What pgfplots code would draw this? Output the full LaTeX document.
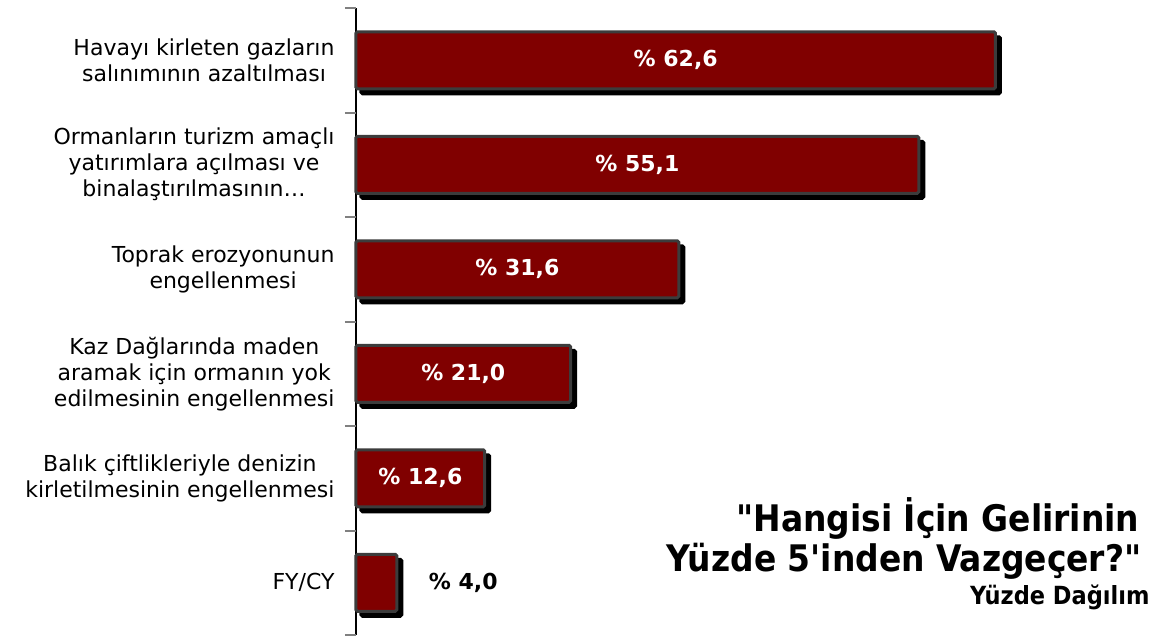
\documentclass[border=0pt]{standalone}
\usepackage{pgfplots}
\pgfplotsset{compat=1.18}
\usepackage{fontspec}
\setmainfont{DejaVu Sans}
\newfontfamily\condfont{DejaVu Sans Condensed}
\definecolor{barred}{HTML}{800000}
\definecolor{baredge}{HTML}{3C3C3C}
\newcommand{\dq}{\symbol{"22}}
\newcommand{\sq}{\symbol{"27}}
\begin{document}
\begin{tikzpicture}[x=1pt,y=1pt]
\path[use as bounding box] (0,0) rectangle (1168,643);
\begin{axis}[
  at={(356pt,8pt)}, anchor=south west,
  scale only axis, width=810pt, height=627pt,
  xmin=0, xmax=79.3, ymin=-0.5, ymax=5.5, y dir=reverse,
  hide x axis,
  axis y line=left, y axis line style={-, black, line width=1.2pt},
  ytick={0,1,2,3,4,5},
  yticklabels={{Havayı kirleten gazların\\salınımının azaltılması},
    {Ormanların turizm amaçlı\\yatırımlara açılması ve\\binalaştırılmasının…},
    {Toprak erozyonunun\\engellenmesi},
    {Kaz Dağlarında maden\\aramak için ormanın yok\\edilmesinin engellenmesi},
    {Balık çiftlikleriyle denizin\\kirletilmesinin engellenmesi},
    {FY/CY}},
  major tick length=0pt,
  yticklabel style={align=center, font=\fontsize{22}{26}\selectfont, xshift=-18pt},
  extra y ticks={-0.5,0.5,1.5,2.5,3.5,4.5,5.5},
  extra y tick labels={},
  extra tick style={major tick length=11pt, tick align=outside, tick style={draw=gray, line width=2pt}},
  clip=false,
]
\addplot[xbar, bar width=57pt, fill=barred, draw=baredge, line width=3pt, rounded corners=1.5pt,
  preaction={draw=black, fill=black, line width=3pt, transform canvas={xshift=5pt,yshift=-5pt}}]
  coordinates {(62.6,0) (55.1,1) (31.6,2) (21.0,3) (12.6,4) (4.0,5)};
\begin{scope}[every node/.style={font=\fontsize{22}{24}\selectfont\bfseries, text=white}]
\node at (axis cs:31.3,0) {\% 62,6};
\node at (axis cs:27.55,1) {\% 55,1};
\node at (axis cs:15.8,2) {\% 31,6};
\node at (axis cs:10.5,3) {\% 21,0};
\node at (axis cs:6.3,4) {\% 12,6};
\node[text=black] at (axis cs:10.5,5) {\% 4,0};
\end{scope}
\end{axis}
\node[anchor=base east, font=\condfont\fontsize{36.6}{40}\selectfont\bfseries] at (1143,111) {\dq Hangisi İçin Gelirinin};
\node[anchor=base east, font=\condfont\fontsize{36.6}{40}\selectfont\bfseries] at (1145,71) {Yüzde 5\sq inden Vazgeçer?\dq};
\node[anchor=base east, font=\condfont\fontsize{25}{28}\selectfont\bfseries] at (1153,38) {Yüzde Dağılım};
\end{tikzpicture}
\end{document}
